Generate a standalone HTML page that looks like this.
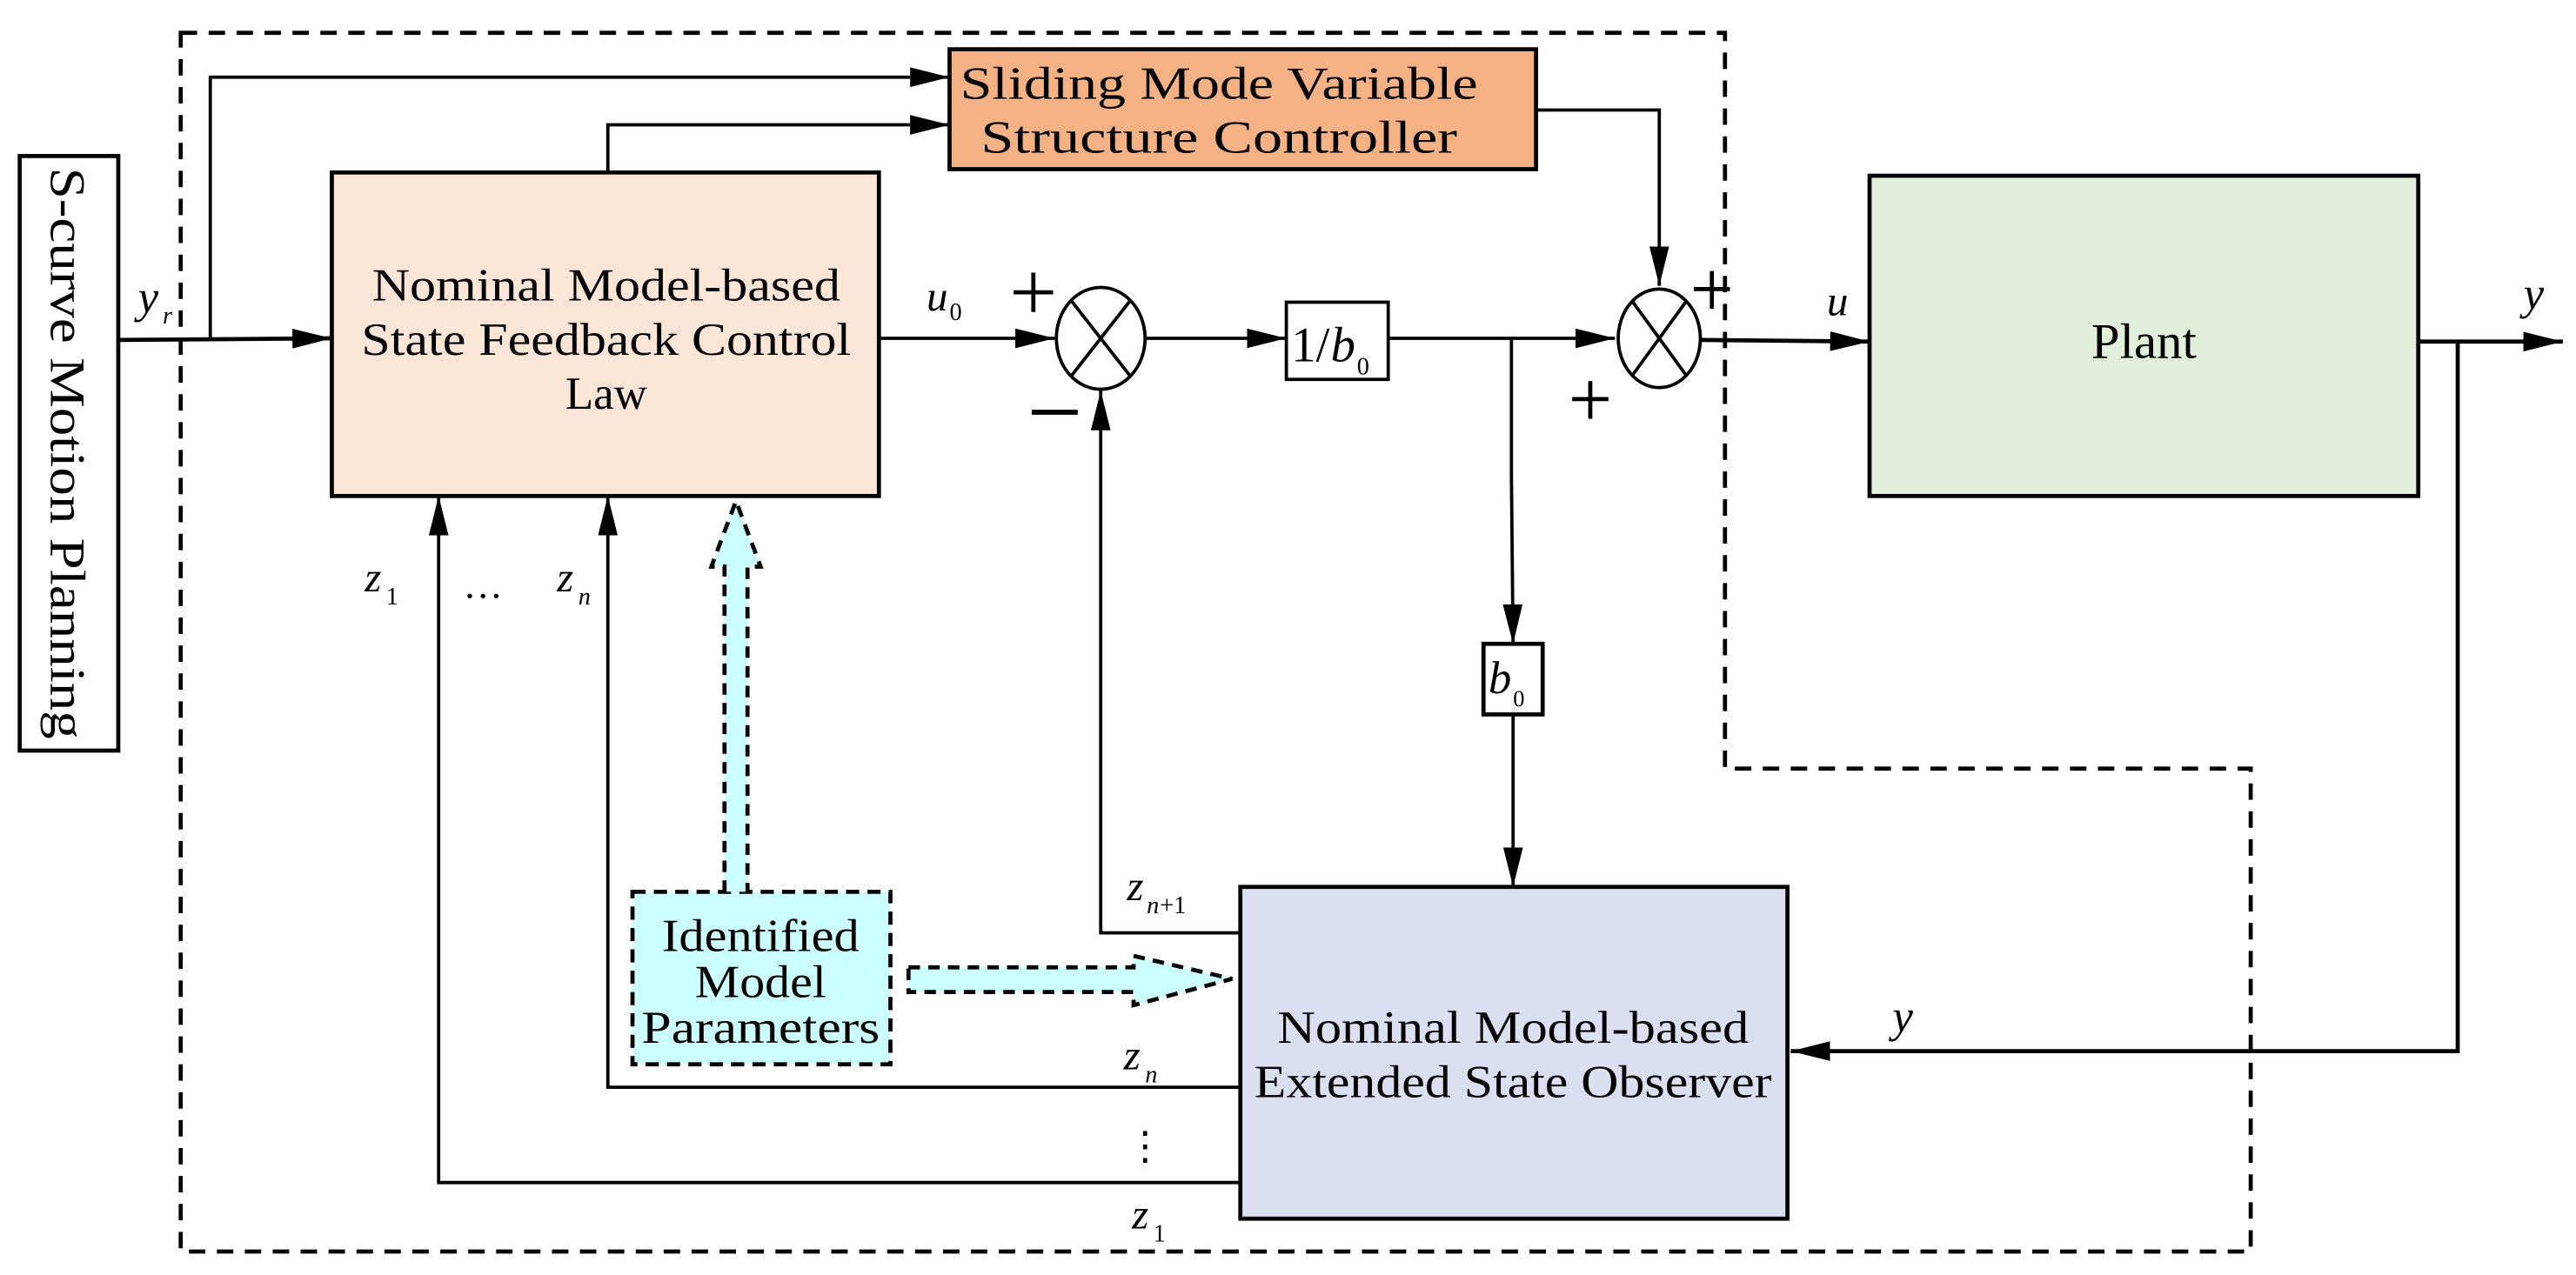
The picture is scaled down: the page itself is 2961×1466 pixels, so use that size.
<!DOCTYPE html>
<html><head><meta charset="utf-8"><style>
html,body{margin:0;padding:0;background:#fff;}
svg{display:block;}
text{font-family:"Liberation Serif",serif;fill:#000;}
</style></head><body>
<svg width="2961" height="1466" viewBox="0 0 1568 776.3" preserveAspectRatio="none" xmlns="http://www.w3.org/2000/svg">
<defs>
<marker id="b" viewBox="0 0 24 12" refX="24" refY="6" markerWidth="24" markerHeight="12" markerUnits="userSpaceOnUse" orient="auto">
<path d="M0,0 L24,6 L0,12 z" fill="#000"/></marker>
</defs>
<path d="M110,20 L1050,20 L1050,468 L1370,468 L1370,762 L110,762 Z" fill="none" stroke="#000" stroke-width="2.5" stroke-dasharray="10,7"/>
<rect x="12" y="95" width="60" height="362" fill="#fff" stroke="#000" stroke-width="2.5"/>
<text transform="translate(31,276) rotate(90)" font-size="30" text-anchor="middle" textLength="348" lengthAdjust="spacingAndGlyphs">S-curve Motion Planning</text>
<line x1="72" y1="207" x2="202" y2="206" stroke="#000" stroke-width="2.5" marker-end="url(#b)"/>
<polyline points="128,207 128,47 578,47" fill="none" stroke="#000" stroke-width="2" marker-end="url(#b)"/>
<text x="84" y="190" font-size="28" font-style="italic">y</text><text x="99" y="197" font-size="15" font-style="italic">r</text>
<rect x="202" y="105" width="333" height="197" fill="#fbe5d6" stroke="#000" stroke-width="2.5"/>
<text x="369" y="183" font-size="28" text-anchor="middle" textLength="285" lengthAdjust="spacingAndGlyphs">Nominal Model-based</text>
<text x="369" y="216" font-size="28" text-anchor="middle" textLength="298" lengthAdjust="spacingAndGlyphs">State Feedback Control</text>
<text x="369" y="249" font-size="28" text-anchor="middle">Law</text>
<polyline points="370,105 370,76 578,76" fill="none" stroke="#000" stroke-width="2" marker-end="url(#b)"/>
<rect x="578" y="30" width="357" height="73" fill="#f4b183" stroke="#000" stroke-width="2.5"/>
<text x="742" y="60" font-size="28" text-anchor="middle" textLength="315" lengthAdjust="spacingAndGlyphs">Sliding Mode Variable</text>
<text x="742" y="93" font-size="28" text-anchor="middle" textLength="290" lengthAdjust="spacingAndGlyphs">Structure Controller</text>
<polyline points="935,67 1010,67 1010,174" fill="none" stroke="#000" stroke-width="2" marker-end="url(#b)"/>
<line x1="535" y1="206" x2="642" y2="206" stroke="#000" stroke-width="2" marker-end="url(#b)"/>
<text x="564" y="189" font-size="26" font-style="italic">u</text><text x="578" y="195" font-size="15">0</text>
<ellipse cx="670" cy="206" rx="27" ry="31" fill="#fff" stroke="#000" stroke-width="2"/>
<line x1="652" y1="183" x2="688" y2="229" stroke="#000" stroke-width="2"/>
<line x1="688" y1="183" x2="652" y2="229" stroke="#000" stroke-width="2"/>
<line x1="617" y1="178" x2="641" y2="178" stroke="#000" stroke-width="2.5"/>
<line x1="629" y1="166" x2="629" y2="190" stroke="#000" stroke-width="2.5"/>
<line x1="628" y1="251" x2="656" y2="251" stroke="#000" stroke-width="3"/>
<line x1="697" y1="206" x2="783" y2="206" stroke="#000" stroke-width="2" marker-end="url(#b)"/>
<rect x="783" y="184" width="62" height="47" fill="#fff" stroke="#000" stroke-width="2"/>
<text x="786" y="220" font-size="30">1/</text><text x="810" y="220" font-size="30" font-style="italic">b</text><text x="826" y="228" font-size="15">0</text>
<line x1="845" y1="206" x2="983" y2="206" stroke="#000" stroke-width="2" marker-end="url(#b)"/>
<ellipse cx="1010" cy="206" rx="25" ry="30" fill="#fff" stroke="#000" stroke-width="2"/>
<line x1="994" y1="184" x2="1026" y2="228" stroke="#000" stroke-width="2"/>
<line x1="1026" y1="184" x2="994" y2="228" stroke="#000" stroke-width="2"/>
<line x1="1031" y1="176" x2="1053" y2="176" stroke="#000" stroke-width="2.5"/>
<line x1="1042" y1="165" x2="1042" y2="188" stroke="#000" stroke-width="2.5"/>
<line x1="957" y1="243" x2="979" y2="243" stroke="#000" stroke-width="2.5"/>
<line x1="968" y1="232" x2="968" y2="255" stroke="#000" stroke-width="2.5"/>
<line x1="1035" y1="207" x2="1138" y2="208" stroke="#000" stroke-width="2.5" marker-end="url(#b)"/>
<text x="1112" y="192" font-size="26" font-style="italic">u</text>
<polyline points="920,206 920,290 921,392" fill="none" stroke="#000" stroke-width="2" marker-end="url(#b)"/>
<rect x="903" y="392" width="36" height="43" fill="#fff" stroke="#000" stroke-width="2.5"/>
<text x="906" y="422" font-size="28" font-style="italic">b</text><text x="921" y="430" font-size="14">0</text>
<line x1="921" y1="435" x2="921" y2="540" stroke="#000" stroke-width="2" marker-end="url(#b)"/>
<rect x="1138" y="107" width="334" height="195" fill="#e2efda" stroke="#000" stroke-width="2.5"/>
<text x="1305" y="218" font-size="30" text-anchor="middle" textLength="64" lengthAdjust="spacingAndGlyphs">Plant</text>
<line x1="1472" y1="208" x2="1560" y2="208" stroke="#000" stroke-width="2.5" marker-end="url(#b)"/>
<text x="1536" y="188" font-size="28" font-style="italic">y</text>
<polyline points="1496,208 1496,640 1090,640" fill="none" stroke="#000" stroke-width="2.5" marker-end="url(#b)"/>
<text x="1152" y="628" font-size="28" font-style="italic">y</text>
<rect x="755" y="540" width="333" height="202" fill="#dae0f2" stroke="#000" stroke-width="2.5"/>
<text x="921" y="635" font-size="28" text-anchor="middle" textLength="287" lengthAdjust="spacingAndGlyphs">Nominal Model-based</text>
<text x="921" y="668" font-size="28" text-anchor="middle" textLength="315" lengthAdjust="spacingAndGlyphs">Extended State Observer</text>
<polyline points="755,568 670,568 670,238" fill="none" stroke="#000" stroke-width="2" marker-end="url(#b)"/>
<polyline points="755,662 370,662 370,302" fill="none" stroke="#000" stroke-width="2" marker-end="url(#b)"/>
<polyline points="755,720 267,720 267,302" fill="none" stroke="#000" stroke-width="2" marker-end="url(#b)"/>
<text x="686" y="548" font-size="26" font-style="italic">z</text><text x="698" y="556" font-size="15" font-style="italic">n</text><text x="706" y="556" font-size="15">+1</text>
<text x="684" y="651" font-size="26" font-style="italic">z</text><text x="697" y="659" font-size="15" font-style="italic">n</text>
<text x="689" y="748" font-size="26" font-style="italic">z</text><text x="702" y="756" font-size="15">1</text>
<text x="222" y="360" font-size="26" font-style="italic">z</text><text x="235" y="368" font-size="15">1</text>
<text x="339" y="360" font-size="26" font-style="italic">z</text><text x="352" y="368" font-size="15" font-style="italic">n</text>
<text x="282" y="364" font-size="24">…</text>
<text x="697" y="706" font-size="24" text-anchor="middle">⋮</text>
<rect x="385" y="543" width="157" height="105" fill="#ccffff" stroke="#000" stroke-width="2.5" stroke-dasharray="8,5"/>
<text x="463" y="579" font-size="28" text-anchor="middle" textLength="120" lengthAdjust="spacingAndGlyphs">Identified</text>
<text x="463" y="607" font-size="28" text-anchor="middle" textLength="80" lengthAdjust="spacingAndGlyphs">Model</text>
<text x="463" y="635" font-size="28" text-anchor="middle" textLength="145" lengthAdjust="spacingAndGlyphs">Parameters</text>
<path d="M441,543 L441,345 L433,345 L448,305 L463,345 L455,345 L455,543" fill="#ccffff" stroke="#000" stroke-width="2.5" stroke-dasharray="7,5"/>
<path d="M553,589 L690,589 L690,582 L750,596 L690,612 L690,604 L553,604 Z" fill="#ccffff" stroke="#000" stroke-width="2.5" stroke-dasharray="7,5"/>
</svg>
</body></html>
